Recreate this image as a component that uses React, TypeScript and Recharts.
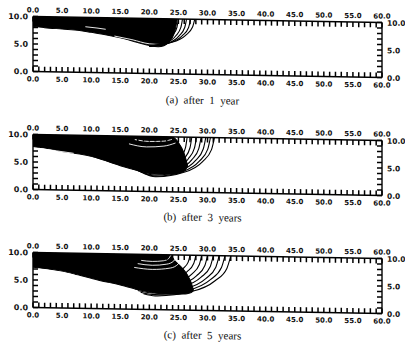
import React from 'react';
import { ComposedChart, Area, Line, XAxis, YAxis } from 'recharts';

// ---- axes ----
const xTicks = [0,1,2,3,4,5,6,7,8,9,10,11,12,13,14,15,16,17,18,19,20,21,22,23,24,25,26,27,28,29,30,31,32,33,34,35,36,37,38,39,40,41,42,43,44,45,46,47,48,49,50,51,52,53,54,55,56,57,58,59,60];
const yTicks = [0,1,2,3,4,5,6,7,8,9,10];
const xLabelStep = 5;
const yLabelStep = 5;

// ---- panel (a) after 1 year: dark region ----
const aX = [0, 2, 5, 8, 10, 12, 15, 18, 20, 21.5, 22.5, 23.5, 24.2, 24.6, 24.8];
const aLow = [8.2, 8.0, 7.8, 7.6, 7.3, 7.0, 6.4, 5.6, 5.1, 4.9, 5.1, 5.9, 7.2, 8.8, 10];
const aHigh = [10, 10, 10, 10, 10, 10, 10, 10, 10, 10, 10, 10, 10, 10, 10];
const aArc1 = [[20, 5.0], [22.5, 5.65], [24, 7.0], [24.75, 8.5], [25, 10]];
const aArc2 = [[20, 4.9], [22.85, 5.56], [24.56, 6.94], [25.42, 8.47], [25.7, 10]];
const aArc3 = [[20, 4.9], [23.2, 5.56], [25.12, 6.94], [26.08, 8.47], [26.4, 10]];
const aArc4 = [[20, 5.0], [23.55, 5.65], [25.68, 7.0], [26.75, 8.5], [27.1, 10]];
const aArc5 = [[20, 5.1], [23.9, 5.74], [26.24, 7.06], [27.41, 8.53], [27.8, 10]];
const aWhite1 = [[9, 8.3], [11, 8.1], [12.5, 7.9]];
const aWhite2 = [[14, 6.7], [17, 6.1], [20, 5.4], [22, 5.3]];

// ---- panel (b) after 3 years ----
const bX = [0, 3, 5, 8, 10, 12, 15, 18, 20, 22, 24, 25, 26, 26.6];
const bLow = [7.8, 7.4, 7.0, 6.6, 6.2, 5.6, 4.6, 3.8, 3.4, 3.2, 3.2, 3.4, 3.8, 4.8];
const bHigh = [10, 10, 10, 10, 10, 10, 10, 10, 10, 10, 10, 9.0, 7.0, 4.8];
const bArc1 = [[18.25, 4.61], [21, 3.8], [23.75, 4.61], [25.4, 6.28], [26.23, 8.14], [26.5, 10]];
const bArc2 = [[17.85, 4.43], [21, 3.6], [24.15, 4.43], [26.04, 6.16], [26.99, 8.08], [27.3, 10]];
const bArc3 = [[17.45, 4.26], [21, 3.4], [24.55, 4.26], [26.68, 6.04], [27.75, 8.02], [28.1, 10]];
const bArc4 = [[17.05, 4.08], [21, 3.2], [24.95, 4.08], [27.32, 5.92], [28.5, 7.96], [28.9, 10]];
const bArc5 = [[18, 3.75], [21, 3.0], [25.35, 3.91], [27.96, 5.8], [29.27, 7.9], [29.7, 10]];
const bArc6 = [[18.5, 3.5], [21, 2.8], [25.75, 3.74], [28.6, 5.68], [30.03, 7.84], [30.5, 10]];
const bArc7 = [[19, 3.3], [21, 2.7], [26.1, 3.65], [29.16, 5.62], [30.69, 7.81], [31.2, 10]];
const bWhite1 = [[17.5, 9.4], [20, 9.1], [22.5, 9.2], [24, 9.6]];
const bWhite2 = [[16.5, 8.6], [19.5, 8.1], [22.5, 8.3], [24.5, 8.9]];
const bWhite3 = [[1, 7.5], [4, 7.1], [7, 6.7]];

// ---- panel (c) after 5 years ----
const cX = [0, 3, 5, 8, 10, 12, 14, 16, 18, 20, 22, 23.5, 24.5, 25.5, 26.5, 27.2, 27.6];
const cLow = [7.3, 7.0, 6.7, 6.0, 5.5, 5.0, 4.6, 4.1, 3.6, 3.2, 2.9, 2.85, 2.85, 2.9, 3.0, 3.2, 3.6];
const cHigh = [10, 10, 10, 10, 10, 10, 10, 10, 10, 10, 10, 10, 8.8, 7.8, 6.5, 5.0, 3.6];
const cWhite1 = [[18.6, 8.9], [20.5, 8.75], [22.4, 8.9], [23.3, 9.3], [23.7, 10]];
const cWhite2 = [[18.0, 8.3], [20.5, 8.05], [23.0, 8.3], [24.2, 8.9], [24.8, 10]];
const cWhite3 = [[17.4, 7.6], [20.5, 7.3], [23.6, 7.6], [25.0, 8.4], [25.7, 10]];
const cWhite4 = [[1, 7.0], [4, 6.6], [8, 5.8]];
const cArc4 = [[17.25, 6.35], [20.5, 5.8], [23.75, 6.35], [25.7, 7.48], [26.68, 8.74], [27.0, 10]];
const cArc5 = [[16.75, 5.65], [20.5, 5.0], [24.25, 5.65], [26.5, 7.0], [27.63, 8.5], [28.0, 10]];
const cArc6 = [[16.25, 5.04], [20.5, 4.3], [24.75, 5.04], [27.3, 6.58], [28.58, 8.29], [29.0, 10]];
const cArc7 = [[17, 4.0], [20.5, 3.8], [25.25, 4.61], [28.1, 6.28], [29.53, 8.14], [30.0, 10]];
const cArc8 = [[17.5, 3.7], [20.5, 3.4], [25.75, 4.26], [28.9, 6.04], [30.48, 8.02], [31.0, 10]];
const cArc9 = [[18, 3.4], [20.5, 3.0], [26.25, 3.91], [29.7, 5.8], [31.43, 7.9], [32.0, 10]];
const cArc10 = [[18.5, 3.1], [20.5, 2.75], [26.75, 3.65], [30.5, 5.62], [32.38, 7.81], [33.0, 10]];
const cArc11 = [[19, 2.85], [21, 2.5], [27.25, 3.39], [31.3, 5.44], [33.33, 7.72], [34.0, 10]];

const captions = ['(a)  after  1  year', '(b)  after  3  years', '(c)  after  5  years'];

const toRange = (xs: number[], low: number[], high: number[]) =>
  xs.map((x, i) => ({ x, r: [low[i], high[i]] }));
const toPts = (arr: number[][]) => arr.map(([x, y]) => ({ x, y }));

const panels = [
  { area: toRange(aX, aLow, aHigh), arcs: [aArc1, aArc2, aArc3, aArc4, aArc5], whites: [aWhite1, aWhite2] },
  { area: toRange(bX, bLow, bHigh), arcs: [bArc1, bArc2, bArc3, bArc4, bArc5, bArc6, bArc7], whites: [bWhite1, bWhite2, bWhite3] },
  { area: toRange(cX, cLow, cHigh), arcs: [cArc4, cArc5, cArc6, cArc7, cArc8, cArc9, cArc10, cArc11], whites: [cWhite1, cWhite2, cWhite3, cWhite4] },
];

const LABEL_FONT = "'DejaVu Sans', sans-serif";
const fmt = (v: number) => v.toFixed(1);
const TL = 5;
const TW = 1.5;

const BottomTick = (p: any) => {
  const { x, y, payload } = p;
  const v = payload.value;
  return (
    <g>
      <line x1={x} x2={x} y1={y} y2={y - TL} stroke="#000" strokeWidth={TW} />
      {v % xLabelStep === 0 && (
        <text x={x} y={y + 10} textAnchor="middle" fontSize={7} fontWeight="bold" fontFamily={LABEL_FONT} fill="#111">
          {fmt(v)}
        </text>
      )}
    </g>
  );
};

const TopTick = (p: any) => {
  const { x, y, payload } = p;
  const v = payload.value;
  return (
    <g>
      <line x1={x} x2={x} y1={y} y2={y + TL} stroke="#000" strokeWidth={TW} />
      {v % xLabelStep === 0 && (
        <text x={x} y={y - 4} textAnchor="middle" fontSize={7} fontWeight="bold" fontFamily={LABEL_FONT} fill="#111">
          {fmt(v)}
        </text>
      )}
    </g>
  );
};

const LeftTick = (p: any) => {
  const { x, y, payload } = p;
  const v = payload.value;
  return (
    <g>
      <line x1={x} x2={x + TL} y1={y} y2={y} stroke="#000" strokeWidth={TW} />
      {v % yLabelStep === 0 && (
        <text x={x - 5} y={y + 3} textAnchor="end" fontSize={8} fontWeight="bold" fontFamily={LABEL_FONT} fill="#111">
          {fmt(v)}
        </text>
      )}
    </g>
  );
};

const RightTick = (p: any) => {
  const { x, y, payload } = p;
  const v = payload.value;
  return (
    <g>
      <line x1={x} x2={x - TL} y1={y} y2={y} stroke="#000" strokeWidth={TW} />
      {v % yLabelStep === 0 && (
        <text x={x + 5} y={y + 3} textAnchor="start" fontSize={7.5} fontWeight="bold" fontFamily={LABEL_FONT} fill="#111">
          {fmt(v)}
        </text>
      )}
    </g>
  );
};

const Panel = ({ area, arcs, whites }: { area: any[]; arcs: number[][][]; whites: number[][][] }) => (
  <ComposedChart width={405} height={100} data={area} margin={{ top: 9.5, right: 13, bottom: 15.5, left: 23 }}>
    <Area xAxisId="b" yAxisId="l" type="monotone" dataKey="r" stroke="#000" strokeWidth={1}
      fill="#000" fillOpacity={1} isAnimationActive={false} dot={false} activeDot={false} />
    {whites.map((w, i) => (
      <Line key={'w' + i} xAxisId="b" yAxisId="l" data={toPts(w)} dataKey="y" type="monotone"
        stroke="#fff" strokeWidth={0.9} dot={false} activeDot={false} isAnimationActive={false} />
    ))}
    {arcs.map((arc, i) => (
      <Line key={i} xAxisId="b" yAxisId="l" data={toPts(arc)} dataKey="y" type="monotone"
        stroke="#000" strokeWidth={1.1} dot={false} activeDot={false} isAnimationActive={false} />
    ))}
    <XAxis xAxisId="b" type="number" dataKey="x" domain={[0, 60]} ticks={xTicks} interval={0}
      allowDataOverflow tickSize={0} tickMargin={0} tickLine={false} tick={<BottomTick />}
      axisLine={{ stroke: '#000', strokeWidth: 1.4 }} height={10} orientation="bottom" />
    <XAxis xAxisId="t" type="number" dataKey="x" domain={[0, 60]} ticks={xTicks} interval={0}
      allowDataOverflow tickSize={0} tickMargin={0} tickLine={false} tick={<TopTick />}
      axisLine={{ stroke: '#000', strokeWidth: 1.4 }} height={10} orientation="top" />
    <YAxis yAxisId="l" type="number" domain={[0, 10]} ticks={yTicks} interval={0}
      allowDataOverflow tickSize={0} tickMargin={0} tickLine={false} tick={<LeftTick />}
      axisLine={{ stroke: '#000', strokeWidth: 1.4 }} width={10} orientation="left" />
    <YAxis yAxisId="r" type="number" domain={[0, 10]} ticks={yTicks} interval={0}
      allowDataOverflow tickSize={0} tickMargin={0} tickLine={false} tick={<RightTick />}
      axisLine={{ stroke: '#000', strokeWidth: 1.4 }} width={10} orientation="right" />
  </ComposedChart>
);

export default function App() {
  const offsets = [0, 118, 236];
  const capTops = [93, 210, 328];
  return (
    <div style={{ position: 'absolute', left: 0, top: 0, width: 405, height: 346, background: '#fff', overflow: 'hidden' }}>
      <div style={{ position: 'absolute', left: 0, top: 0, width: 405, height: 346, transform: 'skewY(1deg)', transformOrigin: '207px 0px' }}>
        {panels.map((p, i) => (
          <div key={i} style={{ position: 'absolute', left: 0, top: offsets[i], width: 405, height: 100 }}>
            <Panel area={p.area} arcs={p.arcs} whites={p.whites} />
          </div>
        ))}
        {captions.map((c, i) => (
          <div key={'c' + i} style={{ position: 'absolute', left: 0, top: capTops[i], width: 405, textAlign: 'center',
            fontFamily: "'Liberation Serif', 'DejaVu Serif', serif", fontSize: 11, color: '#111', whiteSpace: 'pre', lineHeight: '14px' }}>
            {c}
          </div>
        ))}
      </div>
    </div>
  );
}
